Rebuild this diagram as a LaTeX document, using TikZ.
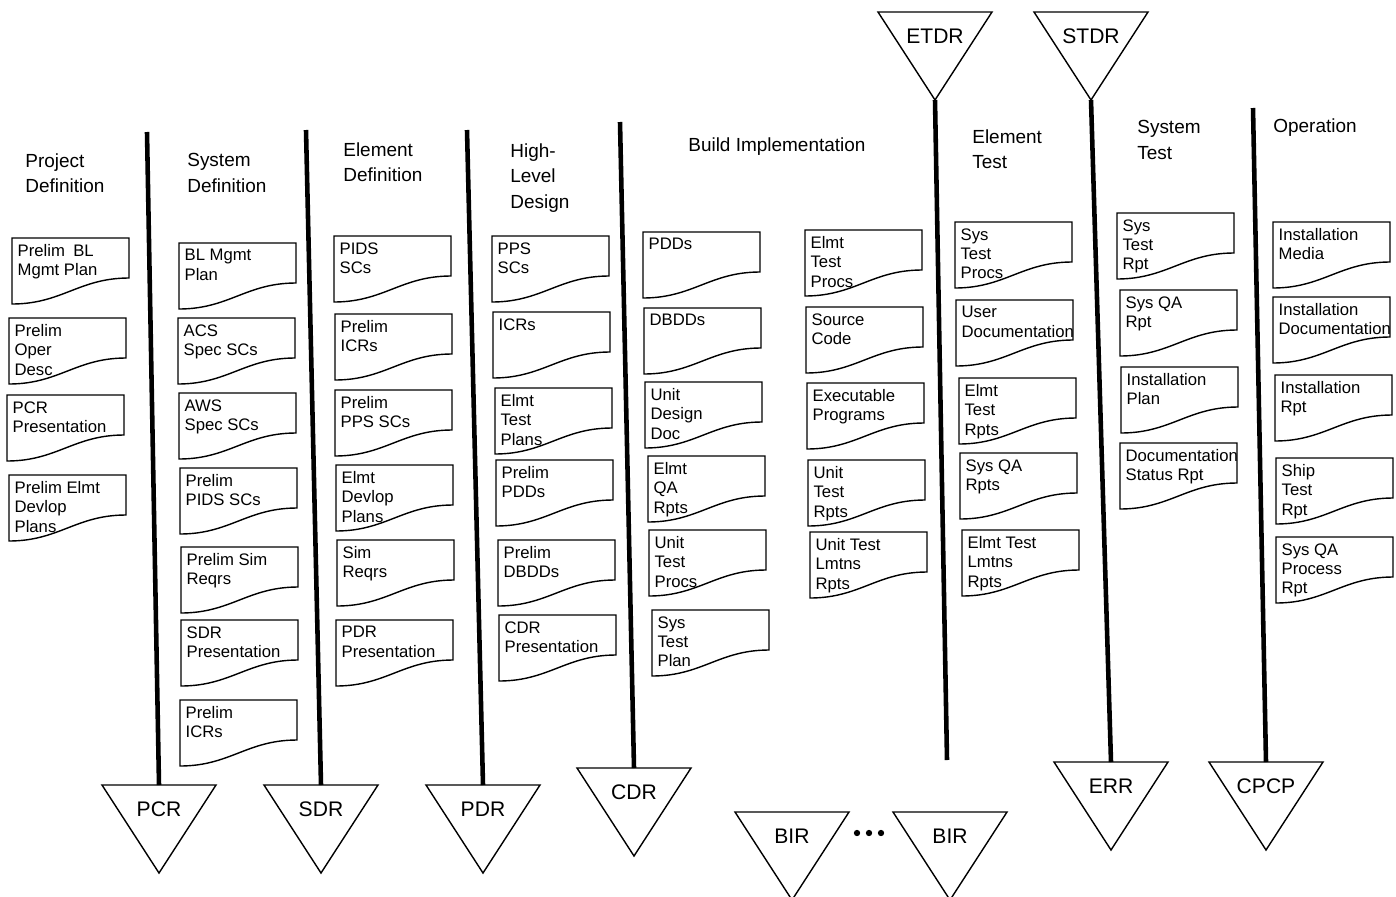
\documentclass[tikz,border=0pt]{standalone}
\usepackage{fontspec}
\setmainfont{Liberation Sans}
\usetikzlibrary{calc}

\begin{document}
\begin{tikzpicture}[x={(0.02cm,0)}, y={(0,-0.02cm)},
    every node/.style={font=\fontsize{9.5}{11}\selectfont},
    doc/.style={anchor=north west, align=left, inner xsep=3pt, inner ysep=3.5pt},
    head/.style={anchor=west, align=left, inner sep=0pt, font=\fontsize{10.8}{14.5}\selectfont},
    rev/.style={font=\fontsize{12}{14}\selectfont},
    phase/.style={line width=2.6pt},
    docline/.style={line width=0.8pt},
    revline/.style={line width=0.8pt}]
    \useasboundingbox (0,0) rectangle (1396,896);

    \coordinate (T1) at (147,132);
    \coordinate (T2) at (306,130);
    \coordinate (T3) at (467,130);
    \coordinate (T4) at (620,122);
    \coordinate (B5) at (947,760);
    \coordinate (T7) at (1253,108);

    \node[head] (hpd) at (25,173) {Project\\Definition};
    \node[head] (hsd) at (187,173) {System\\Definition};
    \node[head] (hed) at (343,162) {Element\\Definition};
    \node[head] (hhl) at (510,178) {High-\\Level\\Design};
    \node[head] (hbi) at (688,147) {Build Implementation};
    \node[head] (het) at (972,149) {Element\\Test};
    \node[head] (hst) at (1137,140) {System\\Test};
    \node[head] (hop) at (1273,128) {Operation};

    \node[doc] (pd1) at (12,238) {Prelim\enspace BL\\Mgmt Plan};
    \node[doc] (pd2) at (9,318) {Prelim\\Oper\\Desc};
    \node[doc] (pd3) at (7,395) {PCR\\Presentation};
    \node[doc] (pd4) at (9,475) {Prelim Elmt\\Devlop\\Plans};

    \node[doc] (sd1) at (179,243) {BL Mgmt\\Plan};
    \node[doc] (sd2) at (178,318) {ACS\\Spec SCs};
    \node[doc] (sd3) at (179,393) {AWS\\Spec SCs};
    \node[doc] (sd4) at (180,468) {Prelim\\PIDS SCs};
    \node[doc] (sd5) at (181,547) {Prelim Sim\\Reqrs};
    \node[doc] (sd6) at (181,620) {SDR\\Presentation};
    \node[doc] (sd7) at (180,700) {Prelim\\ICRs};

    \node[doc] (ed1) at (334,236) {PIDS\\SCs};
    \node[doc] (ed2) at (335,314) {Prelim\\ICRs};
    \node[doc] (ed3) at (335,390) {Prelim\\PPS SCs};
    \node[doc] (ed4) at (336,465) {Elmt\\Devlop\\Plans};
    \node[doc] (ed5) at (337,540) {Sim\\Reqrs};
    \node[doc] (ed6) at (336,620) {PDR\\Presentation};

    \node[doc] (hl1) at (492,236) {PPS\\SCs};
    \node[doc] (hl2) at (493,312) {ICRs};
    \node[doc] (hl3) at (495,388) {Elmt\\Test\\Plans};
    \node[doc] (hl4) at (496,460) {Prelim\\PDDs};
    \node[doc] (hl5) at (498,540) {Prelim\\DBDDs};
    \node[doc] (hl6) at (499,615) {CDR\\Presentation};

    \node[doc] (bi1) at (643,232) {PDDs};
    \node[doc] (bi2) at (644,308) {DBDDs};
    \node[doc] (bi3) at (645,382) {Unit\\Design\\Doc};
    \node[doc] (bi4) at (648,456) {Elmt\\QA\\Rpts};
    \node[doc] (bi5) at (649,530) {Unit\\Test\\Procs};
    \node[doc] (bi6) at (652,610) {Sys\\Test\\Plan};

    \node[doc] (bj1) at (805,230) {Elmt\\Test\\Procs};
    \node[doc] (bj2) at (806,307) {Source\\Code};
    \node[doc] (bj3) at (807,383) {Executable\\Programs};
    \node[doc] (bj4) at (808,460) {Unit\\Test\\Rpts};
    \node[doc] (bj5) at (810,532) {Unit Test\\Lmtns\\Rpts};

    \node[doc] (et1) at (955,222) {Sys\\Test\\Procs};
    \node[doc] (et2) at (956,300) {User\\Documentation};
    \node[doc] (et3) at (959,378) {Elmt\\Test\\Rpts};
    \node[doc] (et4) at (960,453) {Sys QA\\Rpts};
    \node[doc] (et5) at (962,530) {Elmt Test\\Lmtns\\Rpts};

    \node[doc] (st1) at (1117,213) {Sys\\Test\\Rpt};
    \node[doc] (st2) at (1120,290) {Sys QA\\Rpt};
    \node[doc] (st3) at (1121,367) {Installation\\Plan};
    \node[doc] (st4) at (1120,443) {Documentation\\Status Rpt};

    \node[doc] (op1) at (1273,222) {Installation\\Media};
    \node[doc] (op2) at (1273,297) {Installation\\Documentation};
    \node[doc] (op3) at (1275,375) {Installation\\Rpt};
    \node[doc] (op4) at (1276,458) {Ship\\Test\\Rpt};
    \node[doc] (op5) at (1276,537) {Sys QA\\Process\\Rpt};

    \foreach \c/\n in {pd/4,sd/7,ed/6,hl/6,bi/6,bj/5,et/5,st/4,op/5}
        \foreach \i in {1,...,\n}
            \draw[docline] (\c\i.north west) -- ++(117,0) -- ++(0,40)
                .. controls +(-50,0) and +(50,0) .. ++(-117,26) -- cycle;

    \node[rev] (pcr) at (159,809) {PCR};
    \node[rev] (sdr) at (321,809) {SDR};
    \node[rev] (pdr) at (483,809) {PDR};
    \node[rev] (cdr) at (634,792) {CDR};
    \node[rev] (bira) at (792,836) {BIR};
    \node[rev] (birb) at (950,836) {BIR};
    \node[rev] (err) at (1111,786) {ERR};
    \node[rev] (cpcp) at (1266,786) {CPCP};
    \node[rev] (etdr) at (935,36) {ETDR};
    \node[rev] (stdr) at (1091,36) {STDR};

    \foreach \r in {pcr,sdr,pdr,cdr,bira,birb,err,cpcp,etdr,stdr}
        \draw[revline] ($(\r)+(-57,-24)$) -- ($(\r)+(57,-24)$) -- ($(\r)+(0,64)$) -- cycle;

    \draw[phase] (T1) -- ($(pcr)+(0,-24)$);
    \draw[phase] (T2) -- ($(sdr)+(0,-24)$);
    \draw[phase] (T3) -- ($(pdr)+(0,-24)$);
    \draw[phase] (T4) -- ($(cdr)+(0,-24)$);
    \draw[phase] ($(etdr)+(0,64)$) -- (B5);
    \draw[phase] ($(stdr)+(0,64)$) -- ($(err)+(0,-24)$);
    \draw[phase] (T7) -- ($(cpcp)+(0,-24)$);

    \foreach \x in {857,869,881}
        \fill (\x,833) circle (1.8pt);
\end{tikzpicture}
\end{document}
